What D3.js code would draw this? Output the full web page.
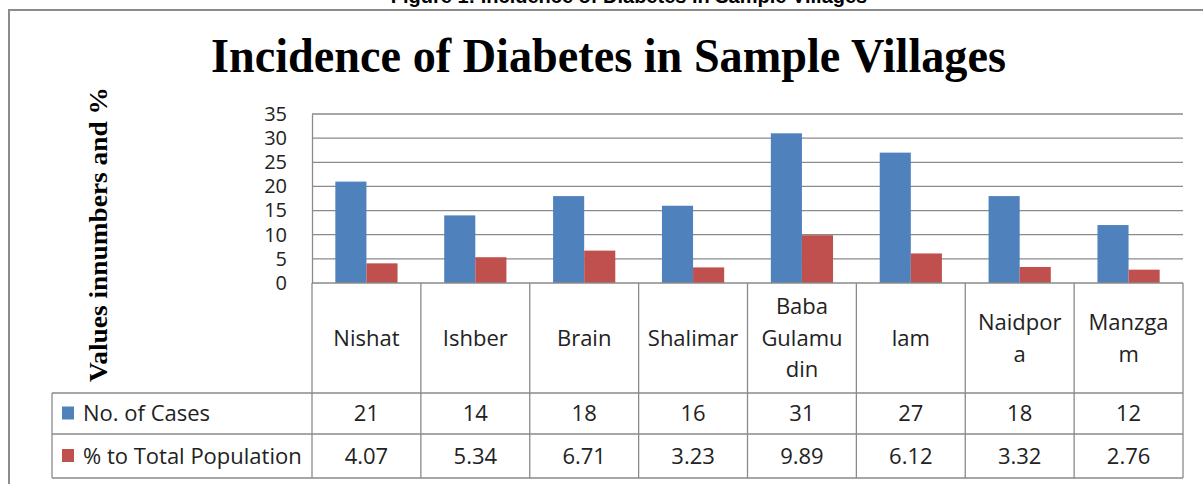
<!DOCTYPE html>
<html>
<head>
<meta charset="utf-8">
<script src="https://cdn.jsdelivr.net/npm/d3@7"></script>
<style>
  body { margin: 0; background: #fff; }
  svg { display: block; }
</style>
</head>
<body>
<script>
// donnees du graphique
var villages = ["Nishat", "Ishber", "Brain", "Shalimar", "Baba Gulamudin", "lam", "Naidpora", "Manzgam"];
var villageLines = [["Nishat"], ["Ishber"], ["Brain"], ["Shalimar"], ["Baba", "Gulamu", "din"], ["lam"], ["Naidpor", "a"], ["Manzga", "m"]];
var seriesNames = ["No. of Cases", "% to Total Population"];
var cases = [21, 14, 18, 16, 31, 27, 18, 12];
var percents = [4.07, 5.34, 6.71, 3.23, 9.89, 6.12, 3.32, 2.76];
var yTicks = [0, 5, 10, 15, 20, 25, 30, 35];
var colors = ["#4F81BD", "#C0504D"];

var larg = 1203, haut = 484;
var grid = "#8a8a8a";
var sansFont = "'Open Sans', sans-serif";

var plotLeft = 312, plotRight = 1183, plotTop = 114, axisY = 283;
var row1 = 393, row2 = 434, tblBottom = 478, headLeft = 52;

var svg = d3.select("body").append("svg")
  .attr("width", larg)
  .attr("height", haut);

// cadre exterieur
svg.append("rect")
  .attr("x", 9).attr("y", 10)
  .attr("width", 1210).attr("height", 490)
  .attr("fill", "none").attr("stroke", "#8c8c8c").attr("stroke-width", 2);

// legende de la figure (coupee en haut)
svg.append("text")
  .attr("x", 629).attr("y", 3)
  .attr("text-anchor", "middle")
  .style("font-family", "'Liberation Sans', Arial, sans-serif")
  .style("font-weight", "bold").style("font-size", "20px")
  .text("Figure 1: Incidence of Diabetes in Sample Villages");

// titre
svg.append("text")
  .attr("x", 211).attr("y", 72)
  .attr("textLength", 795).attr("lengthAdjust", "spacingAndGlyphs")
  .style("font-family", "'Liberation Serif', 'Times New Roman', serif")
  .style("font-weight", "bold").style("font-size", "48px")
  .text("Incidence of Diabetes in Sample Villages");

// titre de l'axe Y
svg.append("text")
  .attr("transform", "translate(107,382) rotate(-90)")
  .attr("textLength", 295).attr("lengthAdjust", "spacingAndGlyphs")
  .style("font-family", "'Liberation Serif', 'Times New Roman', serif")
  .style("font-weight", "bold").style("font-size", "25px")
  .text("Values innumbers and %");

var x = d3.scaleBand().domain(villages).range([plotLeft, plotRight]);
var barW = x.bandwidth() / 3.5;
var xs = d3.scaleBand().domain(seriesNames).range([0, barW * 2]);
var y = d3.scaleLinear().domain([0, 35]).range([axisY, plotTop]);

// lignes de grille
svg.append("g")
  .selectAll("line")
  .data(yTicks.filter(function(d) { return d > 0; }))
  .enter().append("line")
  .attr("x1", plotLeft).attr("x2", plotRight)
  .attr("y1", function(d) { return y(d); })
  .attr("y2", function(d) { return y(d); })
  .attr("stroke", grid).attr("stroke-width", 1.3);

// axe Y
var yAxis = svg.append("g")
  .attr("transform", "translate(" + plotLeft + ",0)")
  .call(d3.axisLeft(y).tickValues(yTicks).tickSize(0).tickPadding(25));
yAxis.select(".domain").attr("stroke", grid).attr("stroke-width", 1.3);
yAxis.selectAll("text")
  .style("font-family", sansFont).style("font-size", "20px").attr("fill", "#222");

// barres
var series = [cases, percents];
series.forEach(function(vals, s) {
  svg.append("g").selectAll("rect")
    .data(vals)
    .enter().append("rect")
    .attr("x", function(d, i) { return x(villages[i]) + (x.bandwidth() - barW * 2) / 2 + xs(seriesNames[s]); })
    .attr("y", function(d) { return y(d); })
    .attr("width", xs.bandwidth())
    .attr("height", function(d) { return axisY - y(d); })
    .attr("fill", colors[s]);
});

// tableau de donnees
var tbl = svg.append("g").attr("stroke", grid).attr("stroke-width", 1.3);
tbl.append("line").attr("x1", plotLeft).attr("x2", plotRight).attr("y1", axisY).attr("y2", axisY);
[row1, row2, tblBottom].forEach(function(yy) {
  tbl.append("line").attr("x1", headLeft).attr("x2", plotRight).attr("y1", yy).attr("y2", yy);
});
tbl.append("line").attr("x1", headLeft).attr("x2", headLeft).attr("y1", row1).attr("y2", tblBottom);
villages.concat([null]).forEach(function(v) {
  var xx = v === null ? plotRight : x(v);
  tbl.append("line").attr("x1", xx).attr("x2", xx).attr("y1", axisY).attr("y2", tblBottom);
});

// noms des villages
var lineH = 31.5;
svg.append("g").selectAll("text")
  .data(villageLines)
  .enter().append("text")
  .attr("text-anchor", "middle")
  .style("font-family", sansFont).style("font-size", "22px").attr("fill", "#222")
  .each(function(lines, i) {
    var cx = x(villages[i]) + x.bandwidth() / 2;
    var cy = (axisY + row1) / 2 - (lines.length - 1) * lineH / 2;
    d3.select(this).selectAll("tspan")
      .data(lines)
      .enter().append("tspan")
      .attr("x", cx)
      .attr("y", function(d, k) { return cy + k * lineH; })
      .attr("dy", "0.36em")
      .text(function(d) { return d; });
  });

// lignes de valeurs
var rowsY = [(row1 + row2) / 2, (row2 + tblBottom) / 2];
series.forEach(function(vals, s) {
  svg.append("g").selectAll("text")
    .data(vals)
    .enter().append("text")
    .attr("x", function(d, i) { return x(villages[i]) + x.bandwidth() / 2; })
    .attr("y", rowsY[s])
    .attr("dy", "0.36em")
    .attr("text-anchor", "middle")
    .style("font-family", sansFont).style("font-size", "22px").attr("fill", "#222")
    .text(function(d) { return s === 0 ? d : d.toFixed(2); });

  svg.append("rect")
    .attr("x", 62).attr("y", rowsY[s] - 7)
    .attr("width", 12).attr("height", 13)
    .attr("fill", colors[s]);
  svg.append("text")
    .attr("x", 83).attr("y", rowsY[s]).attr("dy", "0.36em")
    .style("font-family", sansFont).style("font-size", "22px").attr("fill", "#222")
    .text(seriesNames[s]);
});
</script>
</body>
</html>
